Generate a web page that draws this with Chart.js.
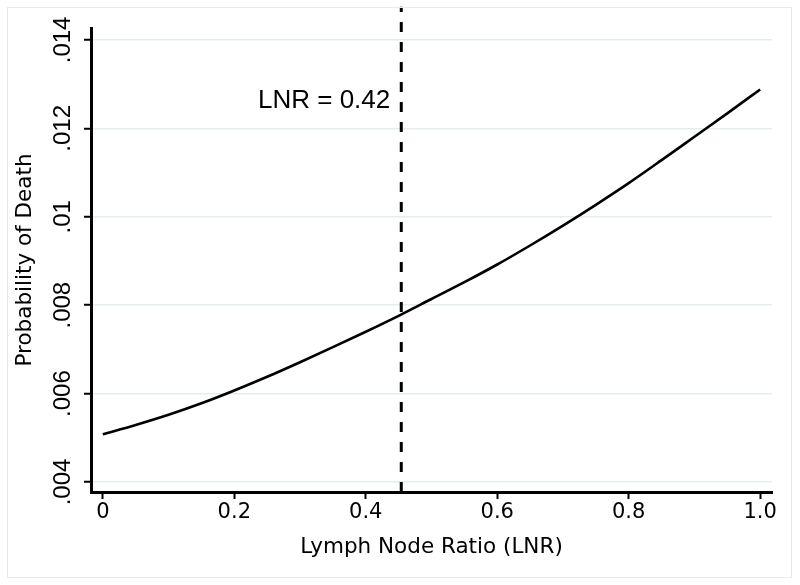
<!DOCTYPE html>
<html><head><meta charset="utf-8">
<script src="https://cdn.jsdelivr.net/npm/chart.js@4.4.0/dist/chart.umd.min.js"></script>
<style>
html,body{margin:0;padding:0;background:#fff;}
#wrap{position:relative;width:800px;height:585px;}
#frame{position:absolute;left:7px;top:7px;width:783px;height:569px;border:1px solid #e4eded;pointer-events:none;}
canvas{display:block;}
</style></head><body>
<div id="wrap"><canvas id="c" width="800" height="585"></canvas><div id="frame"></div></div>
<script>
// Data
const lnr = [0, 0.05, 0.10, 0.15, 0.20, 0.25, 0.30, 0.35, 0.40, 0.45, 0.50,
             0.55, 0.60, 0.65, 0.70, 0.75, 0.80, 0.85, 0.90, 0.95, 1.00];
const probDeath = [0.00508, 0.00529, 0.00552, 0.00578, 0.00607, 0.00638, 0.00671, 0.00705, 0.00740, 0.00776, 0.00814,
                   0.00852, 0.00892, 0.00935, 0.00980, 0.01027, 0.01076, 0.01128, 0.01181, 0.01234, 0.01288];
const cutoffLNR = 0.454;
const cutoffText = 'LNR = 0.42';
const cutoffSpan = [0.003774, 0.01475];
const cutoffLabelY = 0.01263;
const xTickValues = [0, 0.2, 0.4, 0.6, 0.8, 1.0];
const xTickLabels = ['0', '0.2', '0.4', '0.6', '0.8', '1.0'];
const yTickValues = [0.004, 0.006, 0.008, 0.010, 0.012, 0.014];
const yTickLabels = ['.004', '.006', '.008', '.01', '.012', '.014'];
const xRange = [-0.018, 1.018];
const yRange = [0.003774, 0.01427];
const xTitle = 'Lymph Node Ratio (LNR)';
const yTitle = 'Probability of Death';

const labelPlugin = {
  id: 'lnrLabel',
  afterDatasetsDraw(chart) {
    const {ctx, scales: {x, y}} = chart;
    ctx.save();
    ctx.font = '26px "Liberation Sans", Arial, sans-serif';
    ctx.fillStyle = '#000';
    ctx.textAlign = 'right';
    ctx.textBaseline = 'middle';
    ctx.fillText(cutoffText, x.getPixelForValue(cutoffLNR) - 11, y.getPixelForValue(cutoffLabelY));
    ctx.restore();
  }
};

new Chart(document.getElementById('c'), {
  type: 'line',
  data: {
    datasets: [
      {
        data: lnr.map((v, i) => ({x: v, y: probDeath[i]})),
        borderColor: '#000', borderWidth: 2.6, pointRadius: 0, cubicInterpolationMode: 'monotone', fill: false
      },
      {
        data: cutoffSpan.map(v => ({x: cutoffLNR, y: v})),
        borderColor: '#000', borderWidth: 3, borderDash: [10, 10], pointRadius: 0, fill: false, clip: false
      }
    ]
  },
  options: {
    responsive: false, animation: false, devicePixelRatio: 1,
    layout: {padding: {left: 6, top: 28, right: 28, bottom: 13}},
    plugins: {legend: {display: false}, tooltip: {enabled: false}},
    scales: {
      x: {
        type: 'linear', min: xRange[0], max: xRange[1],
        afterBuildTicks: s => { s.ticks = xTickValues.map(v => ({value: v})); },
        afterFit: s => { s.height = 80; },
        ticks: {
          callback: (v, i) => xTickLabels[i],
          font: {family: 'DejaVu Sans', size: 21}, color: '#000',
          padding: 1, maxRotation: 0, minRotation: 0, autoSkip: false
        },
        grid: {drawOnChartArea: false, drawTicks: true, tickLength: 7, tickColor: '#000', tickWidth: 2},
        border: {display: true, color: '#000', width: 3},
        title: {display: true, text: xTitle, font: {family: 'DejaVu Sans', size: 21.5}, color: '#000', padding: {top: 0, bottom: 12}}
      },
      y: {
        type: 'linear', min: yRange[0], max: yRange[1],
        afterBuildTicks: s => { s.ticks = yTickValues.map(v => ({value: v})); },
        afterFit: s => { s.width = 85; },
        ticks: {
          callback: (v, i) => yTickLabels[i],
          font: {family: 'Liberation Sans', size: 24}, color: '#000',
          minRotation: 90, maxRotation: 90, crossAlign: 'center', padding: -3, autoSkip: false
        },
        grid: {color: '#e3eded', lineWidth: 1.5, drawTicks: true, tickLength: 7, tickColor: '#000', tickWidth: 2},
        border: {display: true, color: '#000', width: 3},
        title: {display: true, text: yTitle, font: {family: 'DejaVu Sans', size: 21.5}, color: '#000', padding: {top: 7, bottom: 0}}
      }
    }
  },
  plugins: [labelPlugin]
});
</script>
</body></html>
